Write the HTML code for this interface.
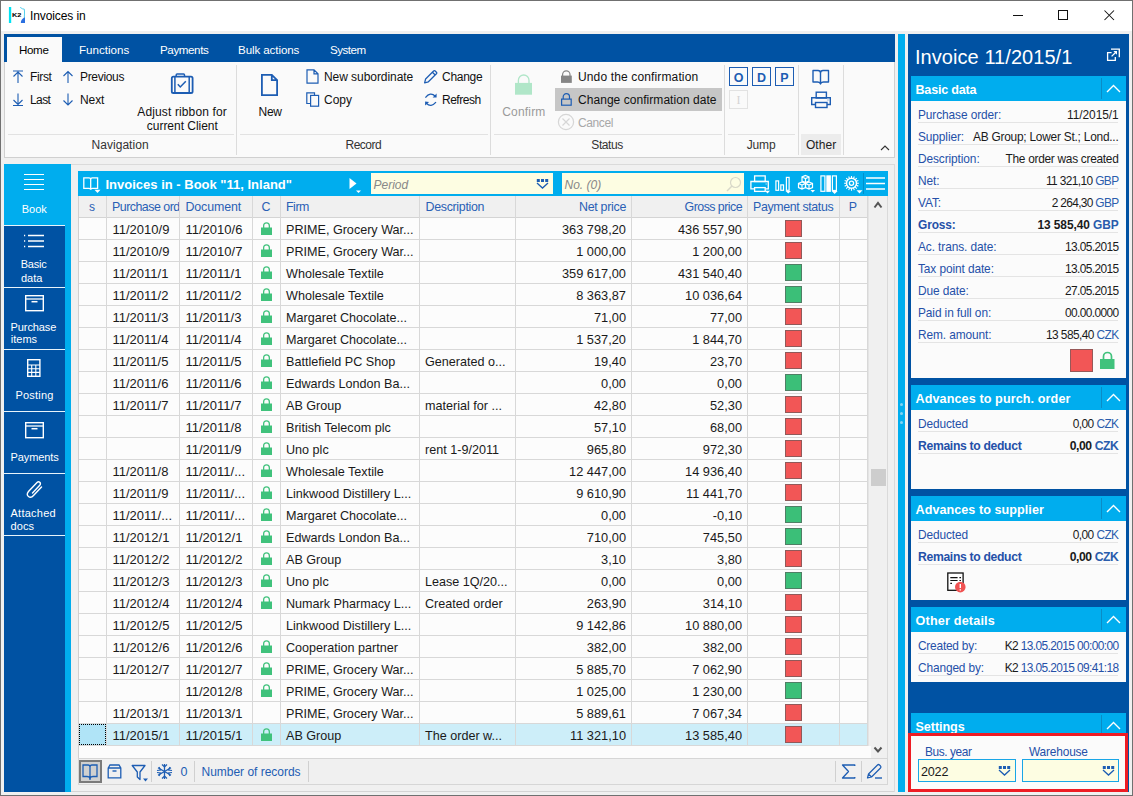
<!DOCTYPE html>
<html><head><meta charset="utf-8"><title>Invoices in</title>
<style>
html,body{margin:0;padding:0;}
body{width:1133px;height:796px;overflow:hidden;position:relative;background:#f0f0f0;font-family:"Liberation Sans",sans-serif;}
.a{position:absolute;}
.t{position:absolute;white-space:nowrap;}
</style></head><body>
<div class="a" style="left:0px;top:0px;width:1133px;height:796px;background:#f0f0f0;"></div>
<div class="a" style="left:1px;top:1px;width:1131px;height:30px;background:#ffffff;"></div>
<div class="a" style="left:0px;top:0px;width:1133px;height:1px;background:#707070;"></div>
<div class="a" style="left:0px;top:0px;width:1px;height:796px;background:#707070;"></div>
<div class="a" style="left:1132px;top:0px;width:1px;height:796px;background:#707070;"></div>
<div class="a" style="left:0px;top:795px;width:1133px;height:1px;background:#707070;"></div>
<svg class="a" style="left:5px;top:3px;" width="25" height="24" viewBox="0 0 25 24"><rect x="3.9" y="4" width="2.3" height="16" fill="#00e2f2"/><text x="7" y="17.2" font-family="Liberation Sans" font-weight="bold" font-size="7.4" letter-spacing="-0.1" fill="#000" transform="scale(1,0.8)">K2</text><path d="M15.2 4.4 L17.5 5.8 L19.3 6.2 L19.5 9 L19.3 15.5" stroke="#3cc8ec" stroke-width="0.9" fill="none"/><path d="M15.8 20 Q15.8 16 19.5 14.5 L20 14.5 L20 20 Z" fill="#2a6fe0"/></svg>
<div class="t" style="top:10px;font-size:12px;line-height:12px;left:30px;color:#000;letter-spacing:-0.100px;">Invoices in</div>
<div class="a" style="left:1013px;top:15px;width:10px;height:1px;background:#111;"></div>
<div class="a" style="left:1058px;top:10px;width:10px;height:10px;border:1px solid #111;box-sizing:border-box;"></div>
<svg class="a" style="left:1104px;top:10px;" width="11" height="11" viewBox="0 0 11 11"><path d="M0.5 0.5 L10 10 M10 0.5 L0.5 10" stroke="#111" stroke-width="1.05"/></svg>
<div class="a" style="left:4px;top:34px;width:891px;height:28px;background:#0052a3;"></div>
<div class="a" style="left:7px;top:37px;width:55px;height:25px;background:#fafafa;"></div>
<div class="t" style="top:44px;font-size:11.6px;line-height:11.6px;left:19px;color:#000;letter-spacing:-0.357px;">Home</div>
<div class="t" style="top:44px;font-size:11.6px;line-height:11.6px;left:79px;color:#fff;letter-spacing:0px;">Functions</div>
<div class="t" style="top:44px;font-size:11.6px;line-height:11.6px;left:160px;color:#fff;letter-spacing:-0.4px;">Payments</div>
<div class="t" style="top:44px;font-size:11.6px;line-height:11.6px;left:238px;color:#fff;letter-spacing:-0.1px;">Bulk actions</div>
<div class="t" style="top:44px;font-size:11.6px;line-height:11.6px;left:330px;color:#fff;letter-spacing:-0.5px;">System</div>
<div class="a" style="left:4px;top:62px;width:891px;height:96px;background:#fafafa;border:1px solid #d0d0d0;border-top:none;box-sizing:border-box;"></div>
<div class="a" style="left:236px;top:65px;width:1px;height:90px;background:#dcdcdc;"></div>
<div class="a" style="left:490px;top:65px;width:1px;height:90px;background:#dcdcdc;"></div>
<div class="a" style="left:724px;top:65px;width:1px;height:90px;background:#dcdcdc;"></div>
<div class="a" style="left:798px;top:65px;width:1px;height:90px;background:#dcdcdc;"></div>
<div class="a" style="left:843px;top:65px;width:1px;height:90px;background:#dcdcdc;"></div>
<div class="a" style="left:8px;top:134px;width:226px;height:1px;background:#e2e2e2;"></div>
<div class="a" style="left:240px;top:134px;width:248px;height:1px;background:#e2e2e2;"></div>
<div class="a" style="left:494px;top:134px;width:228px;height:1px;background:#e2e2e2;"></div>
<div class="a" style="left:728px;top:134px;width:67px;height:1px;background:#e2e2e2;"></div>
<div class="a" style="left:801px;top:134px;width:40px;height:1px;background:#e2e2e2;"></div>
<div class="a" style="left:801px;top:134px;width:40px;height:21px;background:#ececec;"></div>
<div class="t" style="top:139px;font-size:12px;line-height:12px;left:20.10px;width:200px;text-align:center;color:#333;letter-spacing:0.030px;">Navigation</div>
<div class="t" style="top:139px;font-size:12px;line-height:12px;left:263.30px;width:200px;text-align:center;color:#333;letter-spacing:-0.514px;">Record</div>
<div class="t" style="top:139px;font-size:12px;line-height:12px;left:507.10px;width:200px;text-align:center;color:#333;letter-spacing:-0.403px;">Status</div>
<div class="t" style="top:139px;font-size:12px;line-height:12px;left:661.10px;width:200px;text-align:center;color:#333;letter-spacing:-0.136px;">Jump</div>
<div class="t" style="top:139px;font-size:12px;line-height:12px;left:721.10px;width:200px;text-align:center;color:#222;letter-spacing:0.038px;">Other</div>
<svg class="a" style="left:880px;top:144px;" width="10" height="8" viewBox="0 0 10 8"><path d="M1 6 L5 2 L9 6" stroke="#333" stroke-width="1.1" fill="none"/></svg>
<svg class="a" style="left:12px;top:70px;" width="12" height="14" viewBox="0 0 12 14"><path d="M1 1 H11 M6 2 V13 M1.5 6.5 L6 2 L10.5 6.5" stroke="#1d5db3" stroke-width="1.1" fill="none"/></svg>
<div class="t" style="top:71px;font-size:12px;line-height:12px;left:30px;color:#111;letter-spacing:-0.345px;">First</div>
<svg class="a" style="left:12px;top:93px;" width="12" height="14" viewBox="0 0 12 14"><path d="M1 12.5 H11 M6 0.5 V11.5 M1.5 7 L6 11.5 L10.5 7" stroke="#1d5db3" stroke-width="1.1" fill="none"/></svg>
<div class="t" style="top:94px;font-size:12px;line-height:12px;left:30px;color:#111;letter-spacing:-0.595px;">Last</div>
<svg class="a" style="left:62px;top:70px;" width="12" height="14" viewBox="0 0 12 14"><path d="M6 1.5 V13 M1.5 6 L6 1.5 L10.5 6" stroke="#1d5db3" stroke-width="1.1" fill="none"/></svg>
<div class="t" style="top:71px;font-size:12px;line-height:12px;left:80px;color:#111;letter-spacing:-0.323px;">Previous</div>
<svg class="a" style="left:62px;top:93px;" width="12" height="14" viewBox="0 0 12 14"><path d="M6 0.5 V12 M1.5 7.5 L6 12 L10.5 7.5" stroke="#1d5db3" stroke-width="1.1" fill="none"/></svg>
<div class="t" style="top:94px;font-size:12px;line-height:12px;left:80px;color:#111;letter-spacing:-0.093px;">Next</div>
<svg class="a" style="left:170px;top:73px;" width="24" height="21" viewBox="0 0 24 21"><path d="M6.2 3.5 V1.9 Q6.2 1 7.1 1 H13.6 Q14.5 1 14.5 1.9 V3.5" stroke="#1d5db3" stroke-width="1.5" fill="none"/><rect x="1.8" y="3.6" width="20.8" height="16.4" rx="1.6" stroke="#1d5db3" stroke-width="1.8" fill="none"/><path d="M4.9 3.6 V20 M19.2 3.6 V20 M7.8 11.3 L10.3 14 L15.8 8.2" stroke="#1d5db3" stroke-width="1.5" fill="none"/></svg>
<div class="t" style="top:106px;font-size:12px;line-height:12px;left:82.10px;width:200px;text-align:center;color:#111;letter-spacing:0.131px;">Adjust ribbon for</div>
<div class="t" style="top:120px;font-size:12px;line-height:12px;left:82.30px;width:200px;text-align:center;color:#111;letter-spacing:-0.026px;">current Client</div>
<svg class="a" style="left:261px;top:74px;" width="17" height="22" viewBox="0 0 17 22"><path d="M0.9 0.9 H10.8 L16.1 6.2 V21.1 H0.9 Z M10.8 0.9 V6.2 H16.1" stroke="#1d5db3" stroke-width="1.8" fill="none" stroke-linejoin="miter"/></svg>
<div class="t" style="top:106px;font-size:12px;line-height:12px;left:170.15px;width:200px;text-align:center;color:#111;letter-spacing:-0.302px;">New</div>
<svg class="a" style="left:306px;top:69px;" width="13" height="15" viewBox="0 0 13 15"><path d="M1 0.8 H8 L12 4.8 V14.2 H1 Z M8 0.8 V4.8 H12" stroke="#1d5db3" stroke-width="1.2" fill="none"/></svg>
<div class="t" style="top:71px;font-size:12px;line-height:12px;left:324px;color:#111;letter-spacing:-0.057px;">New subordinate</div>
<svg class="a" style="left:306px;top:92px;" width="14" height="15" viewBox="0 0 14 15"><path d="M0.8 0.8 H8.5 V11.5 H0.8 Z" stroke="#1d5db3" stroke-width="1.2" fill="none"/><rect x="4.6" y="3.4" width="8" height="10.8" stroke="#1d5db3" stroke-width="1.2" fill="#fafafa"/></svg>
<div class="t" style="top:94px;font-size:12px;line-height:12px;left:324px;color:#111;letter-spacing:-0.003px;">Copy</div>
<svg class="a" style="left:423px;top:69px;" width="16" height="16" viewBox="0 0 16 16"><path d="M1.6 13.9 L2.6 10 L10.6 2 Q11.4 1.2 12.2 2 L13.4 3.2 Q14.2 4 13.4 4.8 L5.4 12.8 Z M9.4 3.2 L12.2 6" stroke="#1d5db3" stroke-width="1.25" fill="none" stroke-linejoin="round"/></svg>
<div class="t" style="top:71px;font-size:12px;line-height:12px;left:442px;color:#111;letter-spacing:-0.273px;">Change</div>
<svg class="a" style="left:424px;top:92px;" width="14" height="15" viewBox="0 0 14 15"><path d="M1.4 5.6 Q6.3 -0.6 11.3 4.2 M12 10.2 Q7 16 2.3 11.2" stroke="#1d5db3" stroke-width="1.3" fill="none"/><path d="M12.6 1.6 V5.6 L8.6 5.4 Z M1.1 9.6 V13.6 L5.1 10 Z" fill="#1d5db3"/></svg>
<div class="t" style="top:94px;font-size:12px;line-height:12px;left:442px;color:#111;letter-spacing:-0.488px;">Refresh</div>
<svg class="a" style="left:514px;top:74px;" width="19" height="21" viewBox="0 0 19 21"><path d="M4.4 9.2 V6.3 A5.3 5.3 0 0 1 15 6.3 V9.2" stroke="#b0e6c8" stroke-width="1.3" fill="none"/><rect x="1" y="8.9" width="17" height="11.8" fill="#b0e6c8"/></svg>
<div class="t" style="top:106px;font-size:12px;line-height:12px;left:423.90px;width:200px;text-align:center;color:#9a9a9a;letter-spacing:0.171px;">Confirm</div>
<svg class="a" style="left:560px;top:69px;" width="14" height="15" viewBox="0 0 14 15"><path d="M2.6 7 V5.5 A3.7 3.7 0 0 1 10 5.5 V7" stroke="#858585" stroke-width="1.2" fill="none"/><rect x="1" y="6.6" width="10.8" height="7.3" fill="#858585"/></svg>
<div class="t" style="top:71px;font-size:12px;line-height:12px;left:578px;color:#111;letter-spacing:0.138px;">Undo the confirmation</div>
<div class="a" style="left:555px;top:88px;width:167px;height:23px;background:#c6c6c6;"></div>
<svg class="a" style="left:560px;top:92px;" width="14" height="15" viewBox="0 0 14 15"><path d="M3.2 7.1 V4.85 A3.15 3.15 0 0 1 9.5 4.85 V7.1" stroke="#1d5db3" stroke-width="1.2" fill="none"/><rect x="1.6" y="7.1" width="9.6" height="6.1" stroke="#1d5db3" stroke-width="1.2" fill="none"/></svg>
<div class="t" style="top:94px;font-size:12px;line-height:12px;left:578px;color:#111;letter-spacing:0.049px;">Change confirmation date</div>
<svg class="a" style="left:557px;top:113px;" width="18" height="18" viewBox="0 0 18 18"><circle cx="9" cy="9" r="7.6" stroke="#d6d6d6" stroke-width="1.2" fill="none"/><path d="M5.5 5.5 L12.5 12.5 M12.5 5.5 L5.5 12.5" stroke="#d6d6d6" stroke-width="1.2"/></svg>
<div class="t" style="top:117px;font-size:12px;line-height:12px;left:578px;color:#a8a8a8;letter-spacing:-0.392px;">Cancel</div>
<div class="a" style="left:729px;top:67px;width:19px;height:19px;border:1.5px solid #1d5db3;box-sizing:border-box;"></div>
<div class="t" style="top:72px;font-size:12.5px;line-height:12.5px;left:729.00px;width:19px;text-align:center;color:#1d5db3;font-weight:bold;">O</div>
<div class="a" style="left:752px;top:67px;width:19px;height:19px;border:1.5px solid #1d5db3;box-sizing:border-box;"></div>
<div class="t" style="top:72px;font-size:12.5px;line-height:12.5px;left:752.00px;width:19px;text-align:center;color:#1d5db3;font-weight:bold;">D</div>
<div class="a" style="left:775px;top:67px;width:19px;height:19px;border:1.5px solid #1d5db3;box-sizing:border-box;"></div>
<div class="t" style="top:72px;font-size:12.5px;line-height:12.5px;left:775.00px;width:19px;text-align:center;color:#1d5db3;font-weight:bold;">P</div>
<div class="a" style="left:729px;top:90px;width:19px;height:19px;border:1px solid #e2e2e2;box-sizing:border-box;"></div>
<div class="t" style="top:94px;font-size:12px;line-height:12px;left:729.00px;width:19px;text-align:center;color:#d4d4d4;font-family:Liberation Serif,serif;">I</div>
<svg class="a" style="left:812px;top:69px;" width="18" height="16" viewBox="0 0 18 16"><path d="M1 1.5 H6 Q8.5 1.5 8.5 4 V14.5 Q7.5 13 5.5 13 H1 Z M16.5 1.5 H11 Q8.5 1.5 8.5 4 V14.5 Q9.5 13 11.5 13 H16.5 Z" stroke="#1d5db3" stroke-width="1.4" fill="none" stroke-linejoin="round"/><path d="M8.5 14 V15.5" stroke="#1d5db3" stroke-width="1.2"/></svg>
<svg class="a" style="left:810px;top:90px;" width="22" height="19" viewBox="0 0 22 19"><rect x="6.2" y="2.2" width="10.2" height="5.8" stroke="#1d5db3" stroke-width="1.4" fill="none"/><path d="M5 14.5 H1.7 V7.8 H20.3 V14.5 H17" stroke="#1d5db3" stroke-width="1.4" fill="none"/><rect x="5.5" y="12.5" width="11.5" height="5" stroke="#1d5db3" stroke-width="1.4" fill="#fafafa"/><path d="M17.5 10 H18.5" stroke="#1d5db3" stroke-width="0.8"/></svg>
<!--MAIN-->
<div class="a" style="left:4px;top:164px;width:67px;height:628px;background:#00adee;"></div>
<div class="a" style="left:4px;top:226px;width:61px;height:566px;background:#0052a3;"></div>
<div class="a" style="left:4px;top:164px;width:61px;height:61px;background:#00adee;"></div>
<div class="a" style="left:4px;top:225px;width:61px;height:1px;background:#e8f4fb;"></div>
<div class="a" style="left:4px;top:287px;width:61px;height:1px;background:#e8f4fb;"></div>
<div class="a" style="left:4px;top:349px;width:61px;height:1px;background:#e8f4fb;"></div>
<div class="a" style="left:4px;top:411px;width:61px;height:1px;background:#e8f4fb;"></div>
<div class="a" style="left:4px;top:473px;width:61px;height:1px;background:#e8f4fb;"></div>
<div class="a" style="left:4px;top:535px;width:61px;height:1px;background:#e8f4fb;"></div>
<svg class="a" style="left:24px;top:173px;" width="20" height="18" viewBox="0 0 20 18"><path d="M0 1.5 H20 M0 6.5 H20 M0 11.5 H20 M0 16.5 H20" stroke="#fff" stroke-width="1.2"/></svg>
<div class="t" style="top:204px;font-size:11px;line-height:11px;left:-65.70px;width:200px;text-align:center;color:#fff;">Book</div>
<svg class="a" style="left:23px;top:234px;" width="22" height="14" viewBox="0 0 22 14"><path d="M1 1.5 H2.2 M1 7 H2.2 M1 12.5 H2.2" stroke="#fff" stroke-width="1.3"/><path d="M5 1.5 H21 M5 7 H21 M5 12.5 H21" stroke="#fff" stroke-width="1.3"/></svg>
<div class="t" style="top:259px;font-size:11px;line-height:11px;left:20.7px;color:#fff;letter-spacing:-0.2px;">Basic</div>
<div class="t" style="top:273px;font-size:11px;line-height:11px;left:21px;color:#fff;">data</div>
<svg class="a" style="left:25px;top:295px;" width="19" height="17" viewBox="0 0 19 17"><rect x="0.7" y="0.7" width="17.6" height="15" stroke="#fff" stroke-width="1.4" fill="none"/><path d="M0.7 4 H18.3" stroke="#fff" stroke-width="1.3"/><path d="M6.5 6.7 H12.5" stroke="#fff" stroke-width="1.5"/></svg>
<div class="t" style="top:322px;font-size:11px;line-height:11px;left:10.6px;color:#fff;letter-spacing:-0.1px;">Purchase</div>
<div class="t" style="top:334px;font-size:11px;line-height:11px;left:10.8px;color:#fff;">items</div>
<svg class="a" style="left:27px;top:359px;" width="14" height="18" viewBox="0 0 14 18"><rect x="0.7" y="0.7" width="12.2" height="16.6" stroke="#fff" stroke-width="1.4" fill="none"/><path d="M0.7 6 H12.9 M0.7 9.7 H12.9 M0.7 13.4 H12.9 M4.7 6 V17 M8.8 6 V17" stroke="#fff" stroke-width="1.1"/></svg>
<div class="t" style="top:390px;font-size:11px;line-height:11px;left:15.5px;color:#fff;letter-spacing:0.2px;">Posting</div>
<svg class="a" style="left:25px;top:422px;" width="19" height="17" viewBox="0 0 19 17"><rect x="0.7" y="0.7" width="17.6" height="15" stroke="#fff" stroke-width="1.4" fill="none"/><path d="M0.7 4 H18.3" stroke="#fff" stroke-width="1.3"/><path d="M6.5 6.7 H12.5" stroke="#fff" stroke-width="1.5"/></svg>
<div class="t" style="top:452px;font-size:11px;line-height:11px;left:10.5px;color:#fff;letter-spacing:-0.1px;">Payments</div>
<svg class="a" style="left:25px;top:479px;" width="18" height="20" viewBox="0 0 18 20"><path d="M7.5 14 L14.5 6.5 Q16 5 15 3.5 Q13.5 2 12 3.5 L3.5 12.5 Q1 15.5 3.5 17.5 Q6 19.5 8.5 16.5 L16.5 8" stroke="#fff" stroke-width="1.4" fill="none" stroke-linecap="round"/></svg>
<div class="t" style="top:508px;font-size:11px;line-height:11px;left:10.5px;color:#fff;letter-spacing:0.25px;">Attached</div>
<div class="t" style="top:521px;font-size:11px;line-height:11px;left:10.5px;color:#fff;letter-spacing:0.1px;">docs</div>
<div class="a" style="left:71px;top:164px;width:824px;height:1px;background:#dadada;"></div>
<!--GRID-->
<div class="a" style="left:78px;top:171px;width:810px;height:25px;background:#00adee;"></div>
<svg class="a" style="left:83px;top:177px;" width="18" height="17" viewBox="0 0 18 17"><path d="M0.8 0.8 H6 Q7.7 0.8 7.7 2.5 V12.7 Q7.7 11.3 6 11.3 H0.8 Z M14.6 0.8 H9.4 Q7.7 0.8 7.7 2.5 V12.7 Q7.7 11.3 9.4 11.3 H14.6 Z" stroke="#fff" stroke-width="1.3" fill="none"/><path d="M11.5 12.8 H17.5 L14.5 16 Z" fill="#fff"/></svg>
<div class="t" style="top:178px;font-size:13px;line-height:13px;left:105.5px;color:#fff;font-weight:bold;">Invoices in - Book "11, Inland"</div>
<svg class="a" style="left:348px;top:177px;" width="14" height="17" viewBox="0 0 14 17"><path d="M1.5 1 L8.5 6.5 L1.5 12 Z" fill="#fff"/><path d="M8 13.5 H13 L10.5 16 Z" fill="#fff"/></svg>
<div class="a" style="left:371px;top:173px;width:182px;height:21px;background:#fdfde2;"></div>
<div class="t" style="top:179px;font-size:12px;line-height:12px;left:373.5px;color:#888;font-style:italic;">Period</div>
<svg class="a" style="left:536px;top:178px;" width="13" height="11" viewBox="0 0 13 11"><rect x="0.8" y="1" width="3" height="3" fill="#1d5db3"/><rect x="5" y="1" width="3" height="3" fill="#1d5db3"/><rect x="9.2" y="1" width="3" height="3" fill="#1d5db3"/><path d="M2.3 2.5 h0.01 M6.5 2.5 h0.01 M10.7 2.5 h0.01" stroke="#cfe0f0" stroke-width="1"/><path d="M1 5 L6.5 10 L12 5" stroke="#1d5db3" stroke-width="1.3" fill="none"/></svg>
<div class="a" style="left:562px;top:173px;width:182px;height:21px;background:#fdfde2;"></div>
<div class="t" style="top:179px;font-size:12px;line-height:12px;left:564.5px;color:#888;font-style:italic;">No. (0)</div>
<svg class="a" style="left:726px;top:176px;" width="16" height="16" viewBox="0 0 16 16"><circle cx="9.5" cy="6.5" r="5" stroke="#d8d8c8" stroke-width="1.2" fill="none"/><path d="M6 10 L1 15" stroke="#d8d8c8" stroke-width="1.4"/></svg>
<svg class="a" style="left:749px;top:174px;" width="22" height="20" viewBox="0 0 22 20"><rect x="5.6" y="1.9" width="10.6" height="5.6" stroke="#fff" stroke-width="1.3" fill="none"/><path d="M5 14.8 H1.9 V7.5 H19.3 V14.8 H16.5" stroke="#fff" stroke-width="1.3" fill="none"/><rect x="5.6" y="13.6" width="10.6" height="3.8" stroke="#fff" stroke-width="1.3" fill="#00adee"/><path d="M16.5 10 H17.8" stroke="#fff" stroke-width="0.8"/><path d="M16 16.8 H21 L18.5 19.5 Z" fill="#fff"/></svg>
<svg class="a" style="left:774px;top:174px;" width="20" height="20" viewBox="0 0 20 20"><rect x="1.9" y="6.9" width="2.7" height="9.4" stroke="#fff" stroke-width="1.2" fill="none"/><rect x="6.8" y="10.9" width="2.7" height="5.4" stroke="#fff" stroke-width="1.2" fill="none"/><rect x="12.4" y="3.4" width="2.7" height="12.9" stroke="#fff" stroke-width="1.2" fill="none"/><path d="M11.5 17 H17 L14.25 19.6 Z" fill="#fff"/></svg>
<svg class="a" style="left:797px;top:174px;" width="20" height="20" viewBox="0 0 20 20"><path d="M8.5 1.5 L12 3 V7 L8.5 8.5 L5 7 V3 Z M5 3 L8.5 4.5 L12 3 M8.5 4.5 V8.5" stroke="#fff" stroke-width="1.2" fill="none"/><path d="M5 8 L8.5 9.5 V13.5 L5 15 L1.5 13.5 V9.5 Z M1.5 9.5 L5 11 L8.5 9.5 M5 11 V15" stroke="#fff" stroke-width="1.2" fill="none"/><path d="M12 8 L15.5 9.5 V13.5 L12 15 L8.5 13.5 V9.5 Z M8.5 9.5 L12 11 L15.5 9.5 M12 11 V15" stroke="#fff" stroke-width="1.2" fill="none"/><path d="M13.5 16 H18 L15.75 18.5 Z" fill="#fff"/></svg>
<svg class="a" style="left:820px;top:175px;" width="20" height="20" viewBox="0 0 20 20"><rect x="0.9" y="0.9" width="4" height="15.4" stroke="#fff" stroke-width="1.2" fill="none"/><rect x="6.3" y="0.3" width="4.6" height="16.6" fill="#fff"/><rect x="12.4" y="0.9" width="4" height="14.6" stroke="#fff" stroke-width="1.2" fill="none"/><path d="M11.6 16 H17.6 L14.6 19 Z" fill="#fff"/></svg>
<svg class="a" style="left:843px;top:174px;" width="21" height="21" viewBox="0 0 21 21"><circle cx="8.5" cy="9.3" r="5" stroke="#fff" stroke-width="1.5" fill="none"/><circle cx="8.5" cy="9.3" r="2.1" stroke="#fff" stroke-width="1.3" fill="none"/><path d="M13.70 9.30 L15.90 9.30 M13.30 11.29 L15.34 12.13 M12.18 12.98 L13.73 14.53 M10.49 14.10 L11.33 16.14 M8.50 14.50 L8.50 16.70 M6.51 14.10 L5.67 16.14 M4.82 12.98 L3.27 14.53 M3.70 11.29 L1.66 12.13 M3.30 9.30 L1.10 9.30 M3.70 7.31 L1.66 6.47 M4.82 5.62 L3.27 4.07 M6.51 4.50 L5.67 2.46 M8.50 4.10 L8.50 1.90 M10.49 4.50 L11.33 2.46 M12.18 5.62 L13.73 4.07 M13.30 7.31 L15.34 6.47" stroke="#fff" stroke-width="1.1"/><path d="M13.5 16.3 H19.5 L16.5 19.5 Z" fill="#fff"/></svg>
<div class="a" style="left:863px;top:173px;width:1px;height:21px;background:#0090cc;"></div>
<svg class="a" style="left:866px;top:176px;" width="20" height="15" viewBox="0 0 20 15"><path d="M0 2 H19 M0 7.5 H19 M0 13 H19" stroke="#fff" stroke-width="1.4"/></svg>
<div class="a" style="left:78px;top:196px;width:810px;height:562px;background:#fcfcfc;border-left:1px solid #d0d0d0;box-sizing:border-box;"></div>
<div class="a" style="left:78px;top:196px;width:790px;height:21px;background:#f0f0f0;"></div>
<div class="a" style="left:78px;top:217px;width:790px;height:1px;background:#d4d4d4;"></div>
<div class="t" style="top:201px;font-size:12px;line-height:12px;left:78.00px;width:28px;text-align:center;color:#2a5fb5;white-space:nowrap;">s</div>
<div class="t" style="left:112px;top:201px;width:67px;overflow:hidden;font-size:12.4px;line-height:12.4px;letter-spacing:-0.5px;color:#2a5fb5;white-space:nowrap;">Purchase order</div>
<div class="t" style="top:201px;font-size:12.4px;line-height:12.4px;left:185.5px;color:#2a5fb5;white-space:nowrap;letter-spacing:-0.121px;">Document</div>
<div class="t" style="top:201px;font-size:12.4px;line-height:12.4px;left:252.00px;width:28px;text-align:center;color:#2a5fb5;white-space:nowrap;">C</div>
<div class="t" style="top:201px;font-size:12.4px;line-height:12.4px;left:286px;color:#2a5fb5;white-space:nowrap;letter-spacing:-0.467px;">Firm</div>
<div class="t" style="top:201px;font-size:12.4px;line-height:12.4px;left:425.5px;color:#2a5fb5;white-space:nowrap;letter-spacing:-0.298px;">Description</div>
<div class="t" style="top:201px;font-size:12.4px;line-height:12.4px;right:507px;text-align:right;color:#2a5fb5;white-space:nowrap;letter-spacing:-0.287px;">Net price</div>
<div class="t" style="top:201px;font-size:12.4px;line-height:12.4px;right:391px;text-align:right;color:#2a5fb5;white-space:nowrap;letter-spacing:-0.540px;">Gross price</div>
<div class="t" style="top:201px;font-size:12.4px;line-height:12.4px;left:753px;color:#2a5fb5;white-space:nowrap;letter-spacing:-0.364px;">Payment status</div>
<div class="t" style="top:201px;font-size:12.4px;line-height:12.4px;left:839.00px;width:28px;text-align:center;color:#2a5fb5;white-space:nowrap;">P</div>
<div class="a" style="left:78px;top:239px;width:790px;height:1px;background:#d8d8d8;"></div>
<div class="t" style="top:223px;font-size:13px;line-height:13px;left:112.5px;color:#1a1a1a;white-space:nowrap;">11/2010/9</div>
<div class="t" style="top:223px;font-size:13px;line-height:13px;left:185.5px;color:#1a1a1a;white-space:nowrap;">11/2010/6</div>
<svg class="a" style="left:260px;top:221px;" width="13" height="15" viewBox="0 0 13 15"><path d="M3.65 7 V4.65 A2.85 2.85 0 0 1 9.35 4.65 V7" stroke="#40c27c" stroke-width="1.3" fill="none"/><rect x="1" y="6.5" width="11" height="7.5" fill="#40c27c"/></svg>
<div class="t" style="top:224px;font-size:12.6px;line-height:12.6px;left:286px;color:#1a1a1a;white-space:nowrap;">PRIME, Grocery War...</div>
<div class="t" style="top:224px;font-size:12.8px;line-height:12.8px;right:507px;text-align:right;color:#1a1a1a;white-space:nowrap;">363 798,20</div>
<div class="t" style="top:224px;font-size:12.8px;line-height:12.8px;right:391px;text-align:right;color:#1a1a1a;white-space:nowrap;">436 557,90</div>
<div class="a" style="left:785px;top:220px;width:17px;height:17px;background:#f25656;border:1px solid rgba(90,90,90,0.65);box-sizing:border-box;"></div>
<div class="a" style="left:78px;top:261px;width:790px;height:1px;background:#d8d8d8;"></div>
<div class="t" style="top:245px;font-size:13px;line-height:13px;left:112.5px;color:#1a1a1a;white-space:nowrap;">11/2010/9</div>
<div class="t" style="top:245px;font-size:13px;line-height:13px;left:185.5px;color:#1a1a1a;white-space:nowrap;">11/2010/7</div>
<svg class="a" style="left:260px;top:243px;" width="13" height="15" viewBox="0 0 13 15"><path d="M3.65 7 V4.65 A2.85 2.85 0 0 1 9.35 4.65 V7" stroke="#40c27c" stroke-width="1.3" fill="none"/><rect x="1" y="6.5" width="11" height="7.5" fill="#40c27c"/></svg>
<div class="t" style="top:246px;font-size:12.6px;line-height:12.6px;left:286px;color:#1a1a1a;white-space:nowrap;">PRIME, Grocery War...</div>
<div class="t" style="top:246px;font-size:12.8px;line-height:12.8px;right:507px;text-align:right;color:#1a1a1a;white-space:nowrap;">1 000,00</div>
<div class="t" style="top:246px;font-size:12.8px;line-height:12.8px;right:391px;text-align:right;color:#1a1a1a;white-space:nowrap;">1 200,00</div>
<div class="a" style="left:785px;top:242px;width:17px;height:17px;background:#f25656;border:1px solid rgba(90,90,90,0.65);box-sizing:border-box;"></div>
<div class="a" style="left:78px;top:283px;width:790px;height:1px;background:#d8d8d8;"></div>
<div class="t" style="top:267px;font-size:13px;line-height:13px;left:112.5px;color:#1a1a1a;white-space:nowrap;">11/2011/1</div>
<div class="t" style="top:267px;font-size:13px;line-height:13px;left:185.5px;color:#1a1a1a;white-space:nowrap;">11/2011/1</div>
<svg class="a" style="left:260px;top:265px;" width="13" height="15" viewBox="0 0 13 15"><path d="M3.65 7 V4.65 A2.85 2.85 0 0 1 9.35 4.65 V7" stroke="#40c27c" stroke-width="1.3" fill="none"/><rect x="1" y="6.5" width="11" height="7.5" fill="#40c27c"/></svg>
<div class="t" style="top:268px;font-size:12.6px;line-height:12.6px;left:286px;color:#1a1a1a;white-space:nowrap;">Wholesale Textile</div>
<div class="t" style="top:268px;font-size:12.8px;line-height:12.8px;right:507px;text-align:right;color:#1a1a1a;white-space:nowrap;">359 617,00</div>
<div class="t" style="top:268px;font-size:12.8px;line-height:12.8px;right:391px;text-align:right;color:#1a1a1a;white-space:nowrap;">431 540,40</div>
<div class="a" style="left:785px;top:264px;width:17px;height:17px;background:#3bbf78;border:1px solid rgba(90,90,90,0.65);box-sizing:border-box;"></div>
<div class="a" style="left:78px;top:305px;width:790px;height:1px;background:#d8d8d8;"></div>
<div class="t" style="top:289px;font-size:13px;line-height:13px;left:112.5px;color:#1a1a1a;white-space:nowrap;">11/2011/2</div>
<div class="t" style="top:289px;font-size:13px;line-height:13px;left:185.5px;color:#1a1a1a;white-space:nowrap;">11/2011/2</div>
<svg class="a" style="left:260px;top:287px;" width="13" height="15" viewBox="0 0 13 15"><path d="M3.65 7 V4.65 A2.85 2.85 0 0 1 9.35 4.65 V7" stroke="#40c27c" stroke-width="1.3" fill="none"/><rect x="1" y="6.5" width="11" height="7.5" fill="#40c27c"/></svg>
<div class="t" style="top:290px;font-size:12.6px;line-height:12.6px;left:286px;color:#1a1a1a;white-space:nowrap;">Wholesale Textile</div>
<div class="t" style="top:290px;font-size:12.8px;line-height:12.8px;right:507px;text-align:right;color:#1a1a1a;white-space:nowrap;">8 363,87</div>
<div class="t" style="top:290px;font-size:12.8px;line-height:12.8px;right:391px;text-align:right;color:#1a1a1a;white-space:nowrap;">10 036,64</div>
<div class="a" style="left:785px;top:286px;width:17px;height:17px;background:#3bbf78;border:1px solid rgba(90,90,90,0.65);box-sizing:border-box;"></div>
<div class="a" style="left:78px;top:327px;width:790px;height:1px;background:#d8d8d8;"></div>
<div class="t" style="top:311px;font-size:13px;line-height:13px;left:112.5px;color:#1a1a1a;white-space:nowrap;">11/2011/3</div>
<div class="t" style="top:311px;font-size:13px;line-height:13px;left:185.5px;color:#1a1a1a;white-space:nowrap;">11/2011/3</div>
<svg class="a" style="left:260px;top:309px;" width="13" height="15" viewBox="0 0 13 15"><path d="M3.65 7 V4.65 A2.85 2.85 0 0 1 9.35 4.65 V7" stroke="#40c27c" stroke-width="1.3" fill="none"/><rect x="1" y="6.5" width="11" height="7.5" fill="#40c27c"/></svg>
<div class="t" style="top:312px;font-size:12.6px;line-height:12.6px;left:286px;color:#1a1a1a;white-space:nowrap;">Margaret Chocolate...</div>
<div class="t" style="top:312px;font-size:12.8px;line-height:12.8px;right:507px;text-align:right;color:#1a1a1a;white-space:nowrap;">71,00</div>
<div class="t" style="top:312px;font-size:12.8px;line-height:12.8px;right:391px;text-align:right;color:#1a1a1a;white-space:nowrap;">77,00</div>
<div class="a" style="left:785px;top:308px;width:17px;height:17px;background:#f25656;border:1px solid rgba(90,90,90,0.65);box-sizing:border-box;"></div>
<div class="a" style="left:78px;top:349px;width:790px;height:1px;background:#d8d8d8;"></div>
<div class="t" style="top:333px;font-size:13px;line-height:13px;left:112.5px;color:#1a1a1a;white-space:nowrap;">11/2011/4</div>
<div class="t" style="top:333px;font-size:13px;line-height:13px;left:185.5px;color:#1a1a1a;white-space:nowrap;">11/2011/4</div>
<svg class="a" style="left:260px;top:331px;" width="13" height="15" viewBox="0 0 13 15"><path d="M3.65 7 V4.65 A2.85 2.85 0 0 1 9.35 4.65 V7" stroke="#40c27c" stroke-width="1.3" fill="none"/><rect x="1" y="6.5" width="11" height="7.5" fill="#40c27c"/></svg>
<div class="t" style="top:334px;font-size:12.6px;line-height:12.6px;left:286px;color:#1a1a1a;white-space:nowrap;">Margaret Chocolate...</div>
<div class="t" style="top:334px;font-size:12.8px;line-height:12.8px;right:507px;text-align:right;color:#1a1a1a;white-space:nowrap;">1 537,20</div>
<div class="t" style="top:334px;font-size:12.8px;line-height:12.8px;right:391px;text-align:right;color:#1a1a1a;white-space:nowrap;">1 844,70</div>
<div class="a" style="left:785px;top:330px;width:17px;height:17px;background:#f25656;border:1px solid rgba(90,90,90,0.65);box-sizing:border-box;"></div>
<div class="a" style="left:78px;top:371px;width:790px;height:1px;background:#d8d8d8;"></div>
<div class="t" style="top:355px;font-size:13px;line-height:13px;left:112.5px;color:#1a1a1a;white-space:nowrap;">11/2011/5</div>
<div class="t" style="top:355px;font-size:13px;line-height:13px;left:185.5px;color:#1a1a1a;white-space:nowrap;">11/2011/5</div>
<svg class="a" style="left:260px;top:353px;" width="13" height="15" viewBox="0 0 13 15"><path d="M3.65 7 V4.65 A2.85 2.85 0 0 1 9.35 4.65 V7" stroke="#40c27c" stroke-width="1.3" fill="none"/><rect x="1" y="6.5" width="11" height="7.5" fill="#40c27c"/></svg>
<div class="t" style="top:356px;font-size:12.6px;line-height:12.6px;left:286px;color:#1a1a1a;white-space:nowrap;">Battlefield PC Shop</div>
<div class="t" style="top:356px;font-size:12.6px;line-height:12.6px;left:425px;color:#1a1a1a;white-space:nowrap;">Generated o...</div>
<div class="t" style="top:356px;font-size:12.8px;line-height:12.8px;right:507px;text-align:right;color:#1a1a1a;white-space:nowrap;">19,40</div>
<div class="t" style="top:356px;font-size:12.8px;line-height:12.8px;right:391px;text-align:right;color:#1a1a1a;white-space:nowrap;">23,70</div>
<div class="a" style="left:785px;top:352px;width:17px;height:17px;background:#f25656;border:1px solid rgba(90,90,90,0.65);box-sizing:border-box;"></div>
<div class="a" style="left:78px;top:393px;width:790px;height:1px;background:#d8d8d8;"></div>
<div class="t" style="top:377px;font-size:13px;line-height:13px;left:112.5px;color:#1a1a1a;white-space:nowrap;">11/2011/6</div>
<div class="t" style="top:377px;font-size:13px;line-height:13px;left:185.5px;color:#1a1a1a;white-space:nowrap;">11/2011/6</div>
<svg class="a" style="left:260px;top:375px;" width="13" height="15" viewBox="0 0 13 15"><path d="M3.65 7 V4.65 A2.85 2.85 0 0 1 9.35 4.65 V7" stroke="#40c27c" stroke-width="1.3" fill="none"/><rect x="1" y="6.5" width="11" height="7.5" fill="#40c27c"/></svg>
<div class="t" style="top:378px;font-size:12.6px;line-height:12.6px;left:286px;color:#1a1a1a;white-space:nowrap;">Edwards London Ba...</div>
<div class="t" style="top:378px;font-size:12.8px;line-height:12.8px;right:507px;text-align:right;color:#1a1a1a;white-space:nowrap;">0,00</div>
<div class="t" style="top:378px;font-size:12.8px;line-height:12.8px;right:391px;text-align:right;color:#1a1a1a;white-space:nowrap;">0,00</div>
<div class="a" style="left:785px;top:374px;width:17px;height:17px;background:#3bbf78;border:1px solid rgba(90,90,90,0.65);box-sizing:border-box;"></div>
<div class="a" style="left:78px;top:415px;width:790px;height:1px;background:#d8d8d8;"></div>
<div class="t" style="top:399px;font-size:13px;line-height:13px;left:112.5px;color:#1a1a1a;white-space:nowrap;">11/2011/7</div>
<div class="t" style="top:399px;font-size:13px;line-height:13px;left:185.5px;color:#1a1a1a;white-space:nowrap;">11/2011/7</div>
<svg class="a" style="left:260px;top:397px;" width="13" height="15" viewBox="0 0 13 15"><path d="M3.65 7 V4.65 A2.85 2.85 0 0 1 9.35 4.65 V7" stroke="#40c27c" stroke-width="1.3" fill="none"/><rect x="1" y="6.5" width="11" height="7.5" fill="#40c27c"/></svg>
<div class="t" style="top:400px;font-size:12.6px;line-height:12.6px;left:286px;color:#1a1a1a;white-space:nowrap;">AB Group</div>
<div class="t" style="top:400px;font-size:12.6px;line-height:12.6px;left:425px;color:#1a1a1a;white-space:nowrap;">material for ...</div>
<div class="t" style="top:400px;font-size:12.8px;line-height:12.8px;right:507px;text-align:right;color:#1a1a1a;white-space:nowrap;">42,80</div>
<div class="t" style="top:400px;font-size:12.8px;line-height:12.8px;right:391px;text-align:right;color:#1a1a1a;white-space:nowrap;">52,30</div>
<div class="a" style="left:785px;top:396px;width:17px;height:17px;background:#f25656;border:1px solid rgba(90,90,90,0.65);box-sizing:border-box;"></div>
<div class="a" style="left:78px;top:437px;width:790px;height:1px;background:#d8d8d8;"></div>
<div class="t" style="top:421px;font-size:13px;line-height:13px;left:185.5px;color:#1a1a1a;white-space:nowrap;">11/2011/8</div>
<svg class="a" style="left:260px;top:419px;" width="13" height="15" viewBox="0 0 13 15"><path d="M3.65 7 V4.65 A2.85 2.85 0 0 1 9.35 4.65 V7" stroke="#40c27c" stroke-width="1.3" fill="none"/><rect x="1" y="6.5" width="11" height="7.5" fill="#40c27c"/></svg>
<div class="t" style="top:422px;font-size:12.6px;line-height:12.6px;left:286px;color:#1a1a1a;white-space:nowrap;">British Telecom plc</div>
<div class="t" style="top:422px;font-size:12.8px;line-height:12.8px;right:507px;text-align:right;color:#1a1a1a;white-space:nowrap;">57,10</div>
<div class="t" style="top:422px;font-size:12.8px;line-height:12.8px;right:391px;text-align:right;color:#1a1a1a;white-space:nowrap;">68,00</div>
<div class="a" style="left:785px;top:418px;width:17px;height:17px;background:#f25656;border:1px solid rgba(90,90,90,0.65);box-sizing:border-box;"></div>
<div class="a" style="left:78px;top:459px;width:790px;height:1px;background:#d8d8d8;"></div>
<div class="t" style="top:443px;font-size:13px;line-height:13px;left:185.5px;color:#1a1a1a;white-space:nowrap;">11/2011/9</div>
<svg class="a" style="left:260px;top:441px;" width="13" height="15" viewBox="0 0 13 15"><path d="M3.65 7 V4.65 A2.85 2.85 0 0 1 9.35 4.65 V7" stroke="#40c27c" stroke-width="1.3" fill="none"/><rect x="1" y="6.5" width="11" height="7.5" fill="#40c27c"/></svg>
<div class="t" style="top:444px;font-size:12.6px;line-height:12.6px;left:286px;color:#1a1a1a;white-space:nowrap;">Uno plc</div>
<div class="t" style="top:444px;font-size:12.6px;line-height:12.6px;left:425px;color:#1a1a1a;white-space:nowrap;">rent 1-9/2011</div>
<div class="t" style="top:444px;font-size:12.8px;line-height:12.8px;right:507px;text-align:right;color:#1a1a1a;white-space:nowrap;">965,80</div>
<div class="t" style="top:444px;font-size:12.8px;line-height:12.8px;right:391px;text-align:right;color:#1a1a1a;white-space:nowrap;">972,30</div>
<div class="a" style="left:785px;top:440px;width:17px;height:17px;background:#f25656;border:1px solid rgba(90,90,90,0.65);box-sizing:border-box;"></div>
<div class="a" style="left:78px;top:481px;width:790px;height:1px;background:#d8d8d8;"></div>
<div class="t" style="top:465px;font-size:13px;line-height:13px;left:112.5px;color:#1a1a1a;white-space:nowrap;">11/2011/8</div>
<div class="t" style="top:465px;font-size:13px;line-height:13px;left:185.5px;color:#1a1a1a;white-space:nowrap;">11/2011/...</div>
<svg class="a" style="left:260px;top:463px;" width="13" height="15" viewBox="0 0 13 15"><path d="M3.65 7 V4.65 A2.85 2.85 0 0 1 9.35 4.65 V7" stroke="#40c27c" stroke-width="1.3" fill="none"/><rect x="1" y="6.5" width="11" height="7.5" fill="#40c27c"/></svg>
<div class="t" style="top:466px;font-size:12.6px;line-height:12.6px;left:286px;color:#1a1a1a;white-space:nowrap;">Wholesale Textile</div>
<div class="t" style="top:466px;font-size:12.8px;line-height:12.8px;right:507px;text-align:right;color:#1a1a1a;white-space:nowrap;">12 447,00</div>
<div class="t" style="top:466px;font-size:12.8px;line-height:12.8px;right:391px;text-align:right;color:#1a1a1a;white-space:nowrap;">14 936,40</div>
<div class="a" style="left:785px;top:462px;width:17px;height:17px;background:#f25656;border:1px solid rgba(90,90,90,0.65);box-sizing:border-box;"></div>
<div class="a" style="left:78px;top:503px;width:790px;height:1px;background:#d8d8d8;"></div>
<div class="t" style="top:487px;font-size:13px;line-height:13px;left:112.5px;color:#1a1a1a;white-space:nowrap;">11/2011/9</div>
<div class="t" style="top:487px;font-size:13px;line-height:13px;left:185.5px;color:#1a1a1a;white-space:nowrap;">11/2011/...</div>
<svg class="a" style="left:260px;top:485px;" width="13" height="15" viewBox="0 0 13 15"><path d="M3.65 7 V4.65 A2.85 2.85 0 0 1 9.35 4.65 V7" stroke="#40c27c" stroke-width="1.3" fill="none"/><rect x="1" y="6.5" width="11" height="7.5" fill="#40c27c"/></svg>
<div class="t" style="top:488px;font-size:12.6px;line-height:12.6px;left:286px;color:#1a1a1a;white-space:nowrap;">Linkwood Distillery L...</div>
<div class="t" style="top:488px;font-size:12.8px;line-height:12.8px;right:507px;text-align:right;color:#1a1a1a;white-space:nowrap;">9 610,90</div>
<div class="t" style="top:488px;font-size:12.8px;line-height:12.8px;right:391px;text-align:right;color:#1a1a1a;white-space:nowrap;">11 441,70</div>
<div class="a" style="left:785px;top:484px;width:17px;height:17px;background:#f25656;border:1px solid rgba(90,90,90,0.65);box-sizing:border-box;"></div>
<div class="a" style="left:78px;top:525px;width:790px;height:1px;background:#d8d8d8;"></div>
<div class="t" style="top:509px;font-size:13px;line-height:13px;left:112.5px;color:#1a1a1a;white-space:nowrap;">11/2011/...</div>
<div class="t" style="top:509px;font-size:13px;line-height:13px;left:185.5px;color:#1a1a1a;white-space:nowrap;">11/2011/...</div>
<svg class="a" style="left:260px;top:507px;" width="13" height="15" viewBox="0 0 13 15"><path d="M3.65 7 V4.65 A2.85 2.85 0 0 1 9.35 4.65 V7" stroke="#40c27c" stroke-width="1.3" fill="none"/><rect x="1" y="6.5" width="11" height="7.5" fill="#40c27c"/></svg>
<div class="t" style="top:510px;font-size:12.6px;line-height:12.6px;left:286px;color:#1a1a1a;white-space:nowrap;">Margaret Chocolate...</div>
<div class="t" style="top:510px;font-size:12.8px;line-height:12.8px;right:507px;text-align:right;color:#1a1a1a;white-space:nowrap;">0,00</div>
<div class="t" style="top:510px;font-size:12.8px;line-height:12.8px;right:391px;text-align:right;color:#1a1a1a;white-space:nowrap;">-0,10</div>
<div class="a" style="left:785px;top:506px;width:17px;height:17px;background:#3bbf78;border:1px solid rgba(90,90,90,0.65);box-sizing:border-box;"></div>
<div class="a" style="left:78px;top:547px;width:790px;height:1px;background:#d8d8d8;"></div>
<div class="t" style="top:531px;font-size:13px;line-height:13px;left:112.5px;color:#1a1a1a;white-space:nowrap;">11/2012/1</div>
<div class="t" style="top:531px;font-size:13px;line-height:13px;left:185.5px;color:#1a1a1a;white-space:nowrap;">11/2012/1</div>
<svg class="a" style="left:260px;top:529px;" width="13" height="15" viewBox="0 0 13 15"><path d="M3.65 7 V4.65 A2.85 2.85 0 0 1 9.35 4.65 V7" stroke="#40c27c" stroke-width="1.3" fill="none"/><rect x="1" y="6.5" width="11" height="7.5" fill="#40c27c"/></svg>
<div class="t" style="top:532px;font-size:12.6px;line-height:12.6px;left:286px;color:#1a1a1a;white-space:nowrap;">Edwards London Ba...</div>
<div class="t" style="top:532px;font-size:12.8px;line-height:12.8px;right:507px;text-align:right;color:#1a1a1a;white-space:nowrap;">710,00</div>
<div class="t" style="top:532px;font-size:12.8px;line-height:12.8px;right:391px;text-align:right;color:#1a1a1a;white-space:nowrap;">745,50</div>
<div class="a" style="left:785px;top:528px;width:17px;height:17px;background:#3bbf78;border:1px solid rgba(90,90,90,0.65);box-sizing:border-box;"></div>
<div class="a" style="left:78px;top:569px;width:790px;height:1px;background:#d8d8d8;"></div>
<div class="t" style="top:553px;font-size:13px;line-height:13px;left:112.5px;color:#1a1a1a;white-space:nowrap;">11/2012/2</div>
<div class="t" style="top:553px;font-size:13px;line-height:13px;left:185.5px;color:#1a1a1a;white-space:nowrap;">11/2012/2</div>
<svg class="a" style="left:260px;top:551px;" width="13" height="15" viewBox="0 0 13 15"><path d="M3.65 7 V4.65 A2.85 2.85 0 0 1 9.35 4.65 V7" stroke="#40c27c" stroke-width="1.3" fill="none"/><rect x="1" y="6.5" width="11" height="7.5" fill="#40c27c"/></svg>
<div class="t" style="top:554px;font-size:12.6px;line-height:12.6px;left:286px;color:#1a1a1a;white-space:nowrap;">AB Group</div>
<div class="t" style="top:554px;font-size:12.8px;line-height:12.8px;right:507px;text-align:right;color:#1a1a1a;white-space:nowrap;">3,10</div>
<div class="t" style="top:554px;font-size:12.8px;line-height:12.8px;right:391px;text-align:right;color:#1a1a1a;white-space:nowrap;">3,80</div>
<div class="a" style="left:785px;top:550px;width:17px;height:17px;background:#f25656;border:1px solid rgba(90,90,90,0.65);box-sizing:border-box;"></div>
<div class="a" style="left:78px;top:591px;width:790px;height:1px;background:#d8d8d8;"></div>
<div class="t" style="top:575px;font-size:13px;line-height:13px;left:112.5px;color:#1a1a1a;white-space:nowrap;">11/2012/3</div>
<div class="t" style="top:575px;font-size:13px;line-height:13px;left:185.5px;color:#1a1a1a;white-space:nowrap;">11/2012/3</div>
<svg class="a" style="left:260px;top:573px;" width="13" height="15" viewBox="0 0 13 15"><path d="M3.65 7 V4.65 A2.85 2.85 0 0 1 9.35 4.65 V7" stroke="#40c27c" stroke-width="1.3" fill="none"/><rect x="1" y="6.5" width="11" height="7.5" fill="#40c27c"/></svg>
<div class="t" style="top:576px;font-size:12.6px;line-height:12.6px;left:286px;color:#1a1a1a;white-space:nowrap;">Uno plc</div>
<div class="t" style="top:576px;font-size:12.6px;line-height:12.6px;left:425px;color:#1a1a1a;white-space:nowrap;">Lease 1Q/20...</div>
<div class="t" style="top:576px;font-size:12.8px;line-height:12.8px;right:507px;text-align:right;color:#1a1a1a;white-space:nowrap;">0,00</div>
<div class="t" style="top:576px;font-size:12.8px;line-height:12.8px;right:391px;text-align:right;color:#1a1a1a;white-space:nowrap;">0,00</div>
<div class="a" style="left:785px;top:572px;width:17px;height:17px;background:#3bbf78;border:1px solid rgba(90,90,90,0.65);box-sizing:border-box;"></div>
<div class="a" style="left:78px;top:613px;width:790px;height:1px;background:#d8d8d8;"></div>
<div class="t" style="top:597px;font-size:13px;line-height:13px;left:112.5px;color:#1a1a1a;white-space:nowrap;">11/2012/4</div>
<div class="t" style="top:597px;font-size:13px;line-height:13px;left:185.5px;color:#1a1a1a;white-space:nowrap;">11/2012/4</div>
<svg class="a" style="left:260px;top:595px;" width="13" height="15" viewBox="0 0 13 15"><path d="M3.65 7 V4.65 A2.85 2.85 0 0 1 9.35 4.65 V7" stroke="#40c27c" stroke-width="1.3" fill="none"/><rect x="1" y="6.5" width="11" height="7.5" fill="#40c27c"/></svg>
<div class="t" style="top:598px;font-size:12.6px;line-height:12.6px;left:286px;color:#1a1a1a;white-space:nowrap;">Numark Pharmacy L...</div>
<div class="t" style="top:598px;font-size:12.6px;line-height:12.6px;left:425px;color:#1a1a1a;white-space:nowrap;">Created order</div>
<div class="t" style="top:598px;font-size:12.8px;line-height:12.8px;right:507px;text-align:right;color:#1a1a1a;white-space:nowrap;">263,90</div>
<div class="t" style="top:598px;font-size:12.8px;line-height:12.8px;right:391px;text-align:right;color:#1a1a1a;white-space:nowrap;">314,10</div>
<div class="a" style="left:785px;top:594px;width:17px;height:17px;background:#f25656;border:1px solid rgba(90,90,90,0.65);box-sizing:border-box;"></div>
<div class="a" style="left:78px;top:635px;width:790px;height:1px;background:#d8d8d8;"></div>
<div class="t" style="top:619px;font-size:13px;line-height:13px;left:112.5px;color:#1a1a1a;white-space:nowrap;">11/2012/5</div>
<div class="t" style="top:619px;font-size:13px;line-height:13px;left:185.5px;color:#1a1a1a;white-space:nowrap;">11/2012/5</div>
<div class="t" style="top:620px;font-size:12.6px;line-height:12.6px;left:286px;color:#1a1a1a;white-space:nowrap;">Linkwood Distillery L...</div>
<div class="t" style="top:620px;font-size:12.8px;line-height:12.8px;right:507px;text-align:right;color:#1a1a1a;white-space:nowrap;">9 142,86</div>
<div class="t" style="top:620px;font-size:12.8px;line-height:12.8px;right:391px;text-align:right;color:#1a1a1a;white-space:nowrap;">10 880,00</div>
<div class="a" style="left:785px;top:616px;width:17px;height:17px;background:#f25656;border:1px solid rgba(90,90,90,0.65);box-sizing:border-box;"></div>
<div class="a" style="left:78px;top:657px;width:790px;height:1px;background:#d8d8d8;"></div>
<div class="t" style="top:641px;font-size:13px;line-height:13px;left:112.5px;color:#1a1a1a;white-space:nowrap;">11/2012/6</div>
<div class="t" style="top:641px;font-size:13px;line-height:13px;left:185.5px;color:#1a1a1a;white-space:nowrap;">11/2012/6</div>
<svg class="a" style="left:260px;top:639px;" width="13" height="15" viewBox="0 0 13 15"><path d="M3.65 7 V4.65 A2.85 2.85 0 0 1 9.35 4.65 V7" stroke="#40c27c" stroke-width="1.3" fill="none"/><rect x="1" y="6.5" width="11" height="7.5" fill="#40c27c"/></svg>
<div class="t" style="top:642px;font-size:12.6px;line-height:12.6px;left:286px;color:#1a1a1a;white-space:nowrap;">Cooperation partner</div>
<div class="t" style="top:642px;font-size:12.8px;line-height:12.8px;right:507px;text-align:right;color:#1a1a1a;white-space:nowrap;">382,00</div>
<div class="t" style="top:642px;font-size:12.8px;line-height:12.8px;right:391px;text-align:right;color:#1a1a1a;white-space:nowrap;">382,00</div>
<div class="a" style="left:785px;top:638px;width:17px;height:17px;background:#f25656;border:1px solid rgba(90,90,90,0.65);box-sizing:border-box;"></div>
<div class="a" style="left:78px;top:679px;width:790px;height:1px;background:#d8d8d8;"></div>
<div class="t" style="top:663px;font-size:13px;line-height:13px;left:112.5px;color:#1a1a1a;white-space:nowrap;">11/2012/7</div>
<div class="t" style="top:663px;font-size:13px;line-height:13px;left:185.5px;color:#1a1a1a;white-space:nowrap;">11/2012/7</div>
<svg class="a" style="left:260px;top:661px;" width="13" height="15" viewBox="0 0 13 15"><path d="M3.65 7 V4.65 A2.85 2.85 0 0 1 9.35 4.65 V7" stroke="#40c27c" stroke-width="1.3" fill="none"/><rect x="1" y="6.5" width="11" height="7.5" fill="#40c27c"/></svg>
<div class="t" style="top:664px;font-size:12.6px;line-height:12.6px;left:286px;color:#1a1a1a;white-space:nowrap;">PRIME, Grocery War...</div>
<div class="t" style="top:664px;font-size:12.8px;line-height:12.8px;right:507px;text-align:right;color:#1a1a1a;white-space:nowrap;">5 885,70</div>
<div class="t" style="top:664px;font-size:12.8px;line-height:12.8px;right:391px;text-align:right;color:#1a1a1a;white-space:nowrap;">7 062,90</div>
<div class="a" style="left:785px;top:660px;width:17px;height:17px;background:#f25656;border:1px solid rgba(90,90,90,0.65);box-sizing:border-box;"></div>
<div class="a" style="left:78px;top:701px;width:790px;height:1px;background:#d8d8d8;"></div>
<div class="t" style="top:685px;font-size:13px;line-height:13px;left:185.5px;color:#1a1a1a;white-space:nowrap;">11/2012/8</div>
<svg class="a" style="left:260px;top:683px;" width="13" height="15" viewBox="0 0 13 15"><path d="M3.65 7 V4.65 A2.85 2.85 0 0 1 9.35 4.65 V7" stroke="#40c27c" stroke-width="1.3" fill="none"/><rect x="1" y="6.5" width="11" height="7.5" fill="#40c27c"/></svg>
<div class="t" style="top:686px;font-size:12.6px;line-height:12.6px;left:286px;color:#1a1a1a;white-space:nowrap;">PRIME, Grocery War...</div>
<div class="t" style="top:686px;font-size:12.8px;line-height:12.8px;right:507px;text-align:right;color:#1a1a1a;white-space:nowrap;">1 025,00</div>
<div class="t" style="top:686px;font-size:12.8px;line-height:12.8px;right:391px;text-align:right;color:#1a1a1a;white-space:nowrap;">1 230,00</div>
<div class="a" style="left:785px;top:682px;width:17px;height:17px;background:#3bbf78;border:1px solid rgba(90,90,90,0.65);box-sizing:border-box;"></div>
<div class="a" style="left:78px;top:723px;width:790px;height:1px;background:#d8d8d8;"></div>
<div class="t" style="top:707px;font-size:13px;line-height:13px;left:112.5px;color:#1a1a1a;white-space:nowrap;">11/2013/1</div>
<div class="t" style="top:707px;font-size:13px;line-height:13px;left:185.5px;color:#1a1a1a;white-space:nowrap;">11/2013/1</div>
<div class="t" style="top:708px;font-size:12.6px;line-height:12.6px;left:286px;color:#1a1a1a;white-space:nowrap;">PRIME, Grocery War...</div>
<div class="t" style="top:708px;font-size:12.8px;line-height:12.8px;right:507px;text-align:right;color:#1a1a1a;white-space:nowrap;">5 889,61</div>
<div class="t" style="top:708px;font-size:12.8px;line-height:12.8px;right:391px;text-align:right;color:#1a1a1a;white-space:nowrap;">7 067,34</div>
<div class="a" style="left:785px;top:704px;width:17px;height:17px;background:#f25656;border:1px solid rgba(90,90,90,0.65);box-sizing:border-box;"></div>
<div class="a" style="left:79px;top:724px;width:788px;height:21px;background:#cdeef9;"></div>
<div class="a" style="left:79px;top:724px;width:27px;height:21px;background:#b0e4f7;border:1px dotted #000;box-sizing:border-box;"></div>
<div class="a" style="left:78px;top:745px;width:790px;height:1px;background:#d8d8d8;"></div>
<div class="t" style="top:729px;font-size:13px;line-height:13px;left:112.5px;color:#1a1a1a;white-space:nowrap;">11/2015/1</div>
<div class="t" style="top:729px;font-size:13px;line-height:13px;left:185.5px;color:#1a1a1a;white-space:nowrap;">11/2015/1</div>
<svg class="a" style="left:260px;top:727px;" width="13" height="15" viewBox="0 0 13 15"><path d="M3.65 7 V4.65 A2.85 2.85 0 0 1 9.35 4.65 V7" stroke="#40c27c" stroke-width="1.3" fill="none"/><rect x="1" y="6.5" width="11" height="7.5" fill="#40c27c"/></svg>
<div class="t" style="top:730px;font-size:12.6px;line-height:12.6px;left:286px;color:#1a1a1a;white-space:nowrap;">AB Group</div>
<div class="t" style="top:730px;font-size:12.6px;line-height:12.6px;left:425px;color:#1a1a1a;white-space:nowrap;">The order w...</div>
<div class="t" style="top:730px;font-size:12.8px;line-height:12.8px;right:507px;text-align:right;color:#1a1a1a;white-space:nowrap;">11 321,10</div>
<div class="t" style="top:730px;font-size:12.8px;line-height:12.8px;right:391px;text-align:right;color:#1a1a1a;white-space:nowrap;">13 585,40</div>
<div class="a" style="left:785px;top:726px;width:17px;height:17px;background:#f25656;border:1px solid rgba(90,90,90,0.65);box-sizing:border-box;"></div>
<div class="a" style="left:106px;top:196px;width:1px;height:550px;background:#d8d8d8;"></div>
<div class="a" style="left:179px;top:196px;width:1px;height:550px;background:#d8d8d8;"></div>
<div class="a" style="left:252px;top:196px;width:1px;height:550px;background:#d8d8d8;"></div>
<div class="a" style="left:280px;top:196px;width:1px;height:550px;background:#d8d8d8;"></div>
<div class="a" style="left:419px;top:196px;width:1px;height:550px;background:#d8d8d8;"></div>
<div class="a" style="left:515px;top:196px;width:1px;height:550px;background:#d8d8d8;"></div>
<div class="a" style="left:631px;top:196px;width:1px;height:550px;background:#d8d8d8;"></div>
<div class="a" style="left:747px;top:196px;width:1px;height:550px;background:#d8d8d8;"></div>
<div class="a" style="left:839px;top:196px;width:1px;height:550px;background:#d8d8d8;"></div>
<div class="a" style="left:867px;top:196px;width:1px;height:550px;background:#d8d8d8;"></div>
<div class="a" style="left:78px;top:196px;width:1px;height:562px;background:#d0d0d0;"></div>
<div class="a" style="left:868px;top:196px;width:20px;height:562px;background:#f0f0f0;border-left:1px solid #e4e4e4;box-sizing:border-box;"></div>
<div class="a" style="left:868px;top:746px;width:3px;height:12px;background:#fcfcfc;"></div>
<svg class="a" style="left:873px;top:200px;" width="10" height="9" viewBox="0 0 10 9"><path d="M1.5 7.5 L5 3 L8.5 7.5" stroke="#555" stroke-width="2" fill="none"/></svg>
<div class="a" style="left:871px;top:469px;width:15px;height:17px;background:#cdcdcd;"></div>
<svg class="a" style="left:873px;top:745px;" width="10" height="9" viewBox="0 0 10 9"><path d="M1.5 2.5 L5 6.5 L8.5 2.5" stroke="#555" stroke-width="2" fill="none"/></svg>
<div class="a" style="left:887px;top:196px;width:1px;height:562px;background:#dadada;"></div>
<div class="a" style="left:78px;top:758px;width:810px;height:27px;background:#f0f0f0;border:1px solid #d6d6d6;box-sizing:border-box;"></div>
<div class="a" style="left:71px;top:791px;width:824px;height:1px;background:#d4d4d4;"></div>
<div class="a" style="left:79px;top:760px;width:23px;height:23px;background:#d0d0d0;border:2px solid #7a7a7a;box-sizing:border-box;"></div>
<svg class="a" style="left:82px;top:764px;" width="17" height="16" viewBox="0 0 17 16"><path d="M1 1 H6 Q8 1 8 3 V14 Q7 12.5 5 12.5 H1 Z M15 1 H10 Q8 1 8 3 V14 Q9 12.5 11 12.5 H15 Z" stroke="#1d5db3" stroke-width="1.3" fill="none"/><path d="M8 13 V15" stroke="#1d5db3" stroke-width="1.2"/></svg>
<svg class="a" style="left:107px;top:764px;" width="15" height="15" viewBox="0 0 15 15"><path d="M1.2 4 L3 1 H12 L13.8 4 V13.8 H1.2 Z M1.2 4 H13.8" stroke="#1d5db3" stroke-width="1.3" fill="none"/><path d="M5.5 7 H9.5" stroke="#1d5db3" stroke-width="1.4"/></svg>
<svg class="a" style="left:131px;top:764px;" width="18" height="18" viewBox="0 0 18 18"><path d="M1.2 1.5 H14 L9 8 V15.5 L6.3 13 V8 Z" stroke="#1d5db3" stroke-width="1.3" fill="none" stroke-linejoin="round"/><path d="M12 14.5 H17 L14.5 17.5 Z" fill="#1d5db3"/></svg>
<div class="a" style="left:151px;top:761px;width:1px;height:21px;background:#d0d0d0;"></div>
<svg class="a" style="left:156px;top:763px;" width="17" height="17" viewBox="0 0 17 17"><path d="M8.5 1 V16 M2 4.8 L15 12.2 M2 12.2 L15 4.8" stroke="#1d5db3" stroke-width="1.3"/><path d="M6 1.5 L8.5 4 L11 1.5 M6 15.5 L8.5 13 L11 15.5 M1 7.5 L4.5 7 L3 4 M16 7.5 L12.5 7 L14 4 M1 9.5 L4.5 10 L3 13 M16 9.5 L12.5 10 L14 13" stroke="#1d5db3" stroke-width="1.2" fill="none"/></svg>
<div class="t" style="top:766px;font-size:12.5px;line-height:12.5px;left:180.5px;color:#1d5db3;">0</div>
<div class="a" style="left:194px;top:761px;width:1px;height:21px;background:#d0d0d0;"></div>
<div class="t" style="top:766px;font-size:12px;line-height:12px;left:201.5px;color:#1d5db3;letter-spacing:-0.016px;">Number of records</div>
<div class="a" style="left:308px;top:761px;width:1px;height:21px;background:#d0d0d0;"></div>
<div class="a" style="left:835px;top:761px;width:1px;height:21px;background:#d0d0d0;"></div>
<svg class="a" style="left:841px;top:764px;" width="15" height="15" viewBox="0 0 15 15"><path d="M13.8 2 V1 H1.5 L7.5 7.5 L1.5 14 H13.8 V13" stroke="#1d5db3" stroke-width="1.3" fill="none" stroke-linejoin="round"/></svg>
<div class="a" style="left:861px;top:761px;width:1px;height:21px;background:#d0d0d0;"></div>
<svg class="a" style="left:866px;top:763px;" width="17" height="17" viewBox="0 0 17 17"><path d="M1.5 15 L2.5 11 L11.5 2 Q12.5 1 13.5 2 L14.5 3 Q15.5 4 14.5 5 L5.5 14 Z M2.5 11 L5.5 14" stroke="#1d5db3" stroke-width="1.2" fill="none" stroke-linejoin="round"/><path d="M9 15 H16" stroke="#1d5db3" stroke-width="1.4"/></svg>
<div class="a" style="left:895px;top:34px;width:3px;height:758px;background:#f0f0f0;"></div>
<div class="a" style="left:894px;top:164px;width:1px;height:628px;background:#dadada;"></div>
<div class="a" style="left:898px;top:34px;width:7px;height:758px;background:#00adee;"></div>
<div class="a" style="left:900px;top:403px;width:3px;height:3px;background:#7fd3f4;border-radius:50%;"></div>
<div class="a" style="left:900px;top:412px;width:3px;height:3px;background:#7fd3f4;border-radius:50%;"></div>
<div class="a" style="left:900px;top:421px;width:3px;height:3px;background:#7fd3f4;border-radius:50%;"></div>
<!--PANEL-->
<div class="a" style="left:908px;top:34px;width:221px;height:758px;background:#0052a3;"></div>
<div class="t" style="top:47px;font-size:20px;line-height:20px;left:915px;color:#fff;letter-spacing:0.058px;">Invoice 11/2015/1</div>
<svg class="a" style="left:1106px;top:47px;" width="15" height="15" viewBox="0 0 15 15"><path d="M5.6 5.7 H1.6 V13.4 H9.3 V10" stroke="#fff" stroke-width="1.3" fill="none"/><path d="M5 2.1 H13.3 V10.2" stroke="#fff" stroke-width="1.3" fill="none"/><path d="M5.6 9.4 L9.8 5.2" stroke="#fff" stroke-width="1.3"/><path d="M7.4 4.1 H11 V7.7 Z" fill="#fff"/></svg>
<div class="a" style="left:911px;top:76px;width:215px;height:25px;background:#00adee;"></div>
<div class="t" style="top:84px;font-size:12.6px;line-height:12.6px;left:915.5px;color:#fff;font-weight:bold;letter-spacing:-0.220px;">Basic data</div>
<div class="a" style="left:1101px;top:78px;width:1px;height:21px;background:#0a8cc6;"></div>
<svg class="a" style="left:1106px;top:84px;" width="15" height="9" viewBox="0 0 15 9"><path d="M1 8 L7.5 1.5 L14 8" stroke="#fff" stroke-width="1.4" fill="none"/></svg>
<div class="a" style="left:911px;top:101px;width:215px;height:277px;background:#fbfbfb;"></div>
<div class="t" style="top:110px;font-size:11.9px;line-height:11.9px;left:918px;color:#2550a8;white-space:nowrap;letter-spacing:-0.1px;">Purchase order:</div>
<div class="t" style="top:110px;font-size:11.9px;line-height:11.9px;right:14.5px;text-align:right;color:#1a1a1a;white-space:nowrap;letter-spacing:-0.068px;">11/2015/1</div>
<div class="a" style="left:918px;top:122px;width:200px;height:1px;background:#e4e4e4;"></div>
<div class="t" style="top:132px;font-size:11.9px;line-height:11.9px;left:918px;color:#2550a8;white-space:nowrap;letter-spacing:-0.1px;">Supplier:</div>
<div class="t" style="top:132px;font-size:11.9px;line-height:11.9px;right:14.5px;text-align:right;color:#1a1a1a;white-space:nowrap;letter-spacing:-0.233px;">AB Group; Lower St.; Lond...</div>
<div class="a" style="left:918px;top:144px;width:200px;height:1px;background:#e4e4e4;"></div>
<div class="t" style="top:154px;font-size:11.9px;line-height:11.9px;left:918px;color:#2550a8;white-space:nowrap;letter-spacing:-0.1px;">Description:</div>
<div class="t" style="top:154px;font-size:11.9px;line-height:11.9px;right:14.5px;text-align:right;color:#1a1a1a;white-space:nowrap;letter-spacing:-0.284px;">The order was created</div>
<div class="a" style="left:918px;top:166px;width:200px;height:1px;background:#e4e4e4;"></div>
<div class="t" style="top:176px;font-size:11.9px;line-height:11.9px;left:918px;color:#2550a8;white-space:nowrap;letter-spacing:-0.1px;">Net:</div>
<div class="t" style="top:176px;font-size:11.9px;line-height:11.9px;right:14.5px;text-align:right;color:#1a1a1a;white-space:nowrap;letter-spacing:-0.610px;">11 321,10 <span style="color:#2a5cac;">GBP</span></div>
<div class="a" style="left:918px;top:188px;width:200px;height:1px;background:#e4e4e4;"></div>
<div class="t" style="top:198px;font-size:11.9px;line-height:11.9px;left:918px;color:#2550a8;white-space:nowrap;letter-spacing:-0.1px;">VAT:</div>
<div class="t" style="top:198px;font-size:11.9px;line-height:11.9px;right:14.5px;text-align:right;color:#1a1a1a;white-space:nowrap;letter-spacing:-0.658px;">2 264,30 <span style="color:#2a5cac;">GBP</span></div>
<div class="a" style="left:918px;top:210px;width:200px;height:1px;background:#e4e4e4;"></div>
<div class="t" style="top:220px;font-size:11.9px;line-height:11.9px;left:918px;color:#2550a8;white-space:nowrap;letter-spacing:-0.1px;font-weight:bold;">Gross:</div>
<div class="t" style="top:220px;font-size:11.9px;line-height:11.9px;right:14.5px;text-align:right;color:#1a1a1a;white-space:nowrap;font-weight:bold;letter-spacing:-0.075px;">13 585,40 <span style="color:#2a5cac;">GBP</span></div>
<div class="a" style="left:918px;top:232px;width:200px;height:1px;background:#e4e4e4;"></div>
<div class="t" style="top:242px;font-size:11.9px;line-height:11.9px;left:918px;color:#2550a8;white-space:nowrap;letter-spacing:-0.1px;">Ac. trans. date:</div>
<div class="t" style="top:242px;font-size:11.9px;line-height:11.9px;right:14.5px;text-align:right;color:#1a1a1a;white-space:nowrap;letter-spacing:-0.601px;">13.05.2015</div>
<div class="a" style="left:918px;top:254px;width:200px;height:1px;background:#e4e4e4;"></div>
<div class="t" style="top:264px;font-size:11.9px;line-height:11.9px;left:918px;color:#2550a8;white-space:nowrap;letter-spacing:-0.1px;">Tax point date:</div>
<div class="t" style="top:264px;font-size:11.9px;line-height:11.9px;right:14.5px;text-align:right;color:#1a1a1a;white-space:nowrap;letter-spacing:-0.601px;">13.05.2015</div>
<div class="a" style="left:918px;top:276px;width:200px;height:1px;background:#e4e4e4;"></div>
<div class="t" style="top:286px;font-size:11.9px;line-height:11.9px;left:918px;color:#2550a8;white-space:nowrap;letter-spacing:-0.1px;">Due date:</div>
<div class="t" style="top:286px;font-size:11.9px;line-height:11.9px;right:14.5px;text-align:right;color:#1a1a1a;white-space:nowrap;letter-spacing:-0.601px;">27.05.2015</div>
<div class="a" style="left:918px;top:298px;width:200px;height:1px;background:#e4e4e4;"></div>
<div class="t" style="top:308px;font-size:11.9px;line-height:11.9px;left:918px;color:#2550a8;white-space:nowrap;letter-spacing:-0.1px;">Paid in full on:</div>
<div class="t" style="top:308px;font-size:11.9px;line-height:11.9px;right:14.5px;text-align:right;color:#1a1a1a;white-space:nowrap;letter-spacing:-0.601px;">00.00.0000</div>
<div class="a" style="left:918px;top:320px;width:200px;height:1px;background:#e4e4e4;"></div>
<div class="t" style="top:330px;font-size:11.9px;line-height:11.9px;left:918px;color:#2550a8;white-space:nowrap;letter-spacing:-0.1px;">Rem. amount:</div>
<div class="t" style="top:330px;font-size:11.9px;line-height:11.9px;right:14.5px;text-align:right;color:#1a1a1a;white-space:nowrap;letter-spacing:-0.583px;">13 585,40 <span style="color:#2a5cac;">CZK</span></div>
<div class="a" style="left:918px;top:342px;width:200px;height:1px;background:#e4e4e4;"></div>
<div class="a" style="left:1070px;top:349px;width:23px;height:23px;background:#f25656;border:1px solid rgba(90,90,90,0.6);box-sizing:border-box;"></div>
<svg class="a" style="left:1099px;top:351px;" width="17" height="19" viewBox="0 0 17 19"><path d="M4.5 8 V5.5 A4 4 0 0 1 12.5 5.5 V8" stroke="#40c27c" stroke-width="1.7" fill="none"/><rect x="1" y="8" width="14.5" height="10" fill="#40c27c"/></svg>
<div class="a" style="left:911px;top:385px;width:215px;height:25px;background:#00adee;"></div>
<div class="t" style="top:393px;font-size:12.6px;line-height:12.6px;left:915.5px;color:#fff;font-weight:bold;letter-spacing:0.102px;">Advances to purch. order</div>
<div class="a" style="left:1101px;top:387px;width:1px;height:21px;background:#0a8cc6;"></div>
<svg class="a" style="left:1106px;top:393px;" width="15" height="9" viewBox="0 0 15 9"><path d="M1 8 L7.5 1.5 L14 8" stroke="#fff" stroke-width="1.4" fill="none"/></svg>
<div class="a" style="left:911px;top:410px;width:215px;height:79px;background:#fbfbfb;"></div>
<div class="t" style="top:419px;font-size:11.9px;line-height:11.9px;left:918px;color:#2550a8;white-space:nowrap;letter-spacing:-0.113px;">Deducted</div>
<div class="t" style="top:419px;font-size:11.9px;line-height:11.9px;right:14.5px;text-align:right;color:#1a1a1a;white-space:nowrap;letter-spacing:-0.566px;">0,00 <span style="color:#2a5cac;">CZK</span></div>
<div class="a" style="left:918px;top:431px;width:200px;height:1px;background:#e4e4e4;"></div>
<div class="t" style="top:440px;font-size:12.2px;line-height:12.2px;left:918px;color:#2550a8;white-space:nowrap;font-weight:bold;letter-spacing:-0.331px;">Remains to deduct</div>
<div class="t" style="top:440px;font-size:12.2px;line-height:12.2px;right:14.5px;text-align:right;color:#1a1a1a;white-space:nowrap;font-weight:bold;letter-spacing:-0.419px;">0,00 <span style="color:#2a5cac;">CZK</span></div>
<div class="a" style="left:918px;top:453px;width:200px;height:1px;background:#e4e4e4;"></div>
<div class="a" style="left:911px;top:496px;width:215px;height:25px;background:#00adee;"></div>
<div class="t" style="top:504px;font-size:12.6px;line-height:12.6px;left:915.5px;color:#fff;font-weight:bold;letter-spacing:0.051px;">Advances to supplier</div>
<div class="a" style="left:1101px;top:498px;width:1px;height:21px;background:#0a8cc6;"></div>
<svg class="a" style="left:1106px;top:504px;" width="15" height="9" viewBox="0 0 15 9"><path d="M1 8 L7.5 1.5 L14 8" stroke="#fff" stroke-width="1.4" fill="none"/></svg>
<div class="a" style="left:911px;top:521px;width:215px;height:79px;background:#fbfbfb;"></div>
<div class="t" style="top:530px;font-size:11.9px;line-height:11.9px;left:918px;color:#2550a8;white-space:nowrap;letter-spacing:-0.113px;">Deducted</div>
<div class="t" style="top:530px;font-size:11.9px;line-height:11.9px;right:14.5px;text-align:right;color:#1a1a1a;white-space:nowrap;letter-spacing:-0.566px;">0,00 <span style="color:#2a5cac;">CZK</span></div>
<div class="a" style="left:918px;top:542px;width:200px;height:1px;background:#e4e4e4;"></div>
<div class="t" style="top:551px;font-size:12.2px;line-height:12.2px;left:918px;color:#2550a8;white-space:nowrap;font-weight:bold;letter-spacing:-0.331px;">Remains to deduct</div>
<div class="t" style="top:551px;font-size:12.2px;line-height:12.2px;right:14.5px;text-align:right;color:#1a1a1a;white-space:nowrap;font-weight:bold;letter-spacing:-0.419px;">0,00 <span style="color:#2a5cac;">CZK</span></div>
<div class="a" style="left:918px;top:564px;width:200px;height:1px;background:#e4e4e4;"></div>
<svg class="a" style="left:946px;top:572px;" width="21" height="22" viewBox="0 0 21 22"><rect x="1.8" y="1" width="15.3" height="17.3" stroke="#111" stroke-width="1.3" fill="#fff"/><path d="M4.3 5.6 H11.6 M13.4 5.6 H15 M4.3 8.5 H11.6 M13.4 8.5 H15 M4.3 11.4 H6" stroke="#111" stroke-width="1.1"/><circle cx="14.3" cy="15.1" r="5.3" fill="#f05252"/><path d="M14.3 12 V15.9 M14.3 17.2 V18.5" stroke="#fff" stroke-width="1.4"/></svg>
<div class="a" style="left:911px;top:607px;width:215px;height:25px;background:#00adee;"></div>
<div class="t" style="top:615px;font-size:12.6px;line-height:12.6px;left:915.5px;color:#fff;font-weight:bold;letter-spacing:0.194px;">Other details</div>
<div class="a" style="left:1101px;top:609px;width:1px;height:21px;background:#0a8cc6;"></div>
<svg class="a" style="left:1106px;top:615px;" width="15" height="9" viewBox="0 0 15 9"><path d="M1 8 L7.5 1.5 L14 8" stroke="#fff" stroke-width="1.4" fill="none"/></svg>
<div class="a" style="left:911px;top:632px;width:215px;height:50px;background:#fbfbfb;"></div>
<div class="t" style="top:641px;font-size:11.9px;line-height:11.9px;left:918px;color:#2550a8;white-space:nowrap;letter-spacing:-0.224px;">Created by:</div>
<div class="t" style="top:641px;font-size:11.9px;line-height:11.9px;right:14.5px;text-align:right;color:#1a1a1a;white-space:nowrap;letter-spacing:-0.598px;">K2 <span style="color:#2550a8">13.05.2015 00:00:00</span></div>
<div class="a" style="left:918px;top:653px;width:200px;height:1px;background:#e4e4e4;"></div>
<div class="t" style="top:663px;font-size:11.9px;line-height:11.9px;left:918px;color:#2550a8;white-space:nowrap;letter-spacing:-0.130px;">Changed by:</div>
<div class="t" style="top:663px;font-size:11.9px;line-height:11.9px;right:14.5px;text-align:right;color:#1a1a1a;white-space:nowrap;letter-spacing:-0.598px;">K2 <span style="color:#2550a8">13.05.2015 09:41:18</span></div>
<div class="a" style="left:918px;top:675px;width:200px;height:1px;background:#e4e4e4;"></div>
<div class="a" style="left:911px;top:713px;width:215px;height:25px;background:#00adee;"></div>
<div class="t" style="top:721px;font-size:12.6px;line-height:12.6px;left:915.5px;color:#fff;font-weight:bold;letter-spacing:-0.060px;">Settings</div>
<div class="a" style="left:1101px;top:715px;width:1px;height:21px;background:#0a8cc6;"></div>
<svg class="a" style="left:1106px;top:721px;" width="15" height="9" viewBox="0 0 15 9"><path d="M1 8 L7.5 1.5 L14 8" stroke="#fff" stroke-width="1.4" fill="none"/></svg>
<div class="a" style="left:911px;top:736px;width:215px;height:53px;background:#fbfbfb;"></div>
<div class="t" style="top:747px;font-size:11.9px;line-height:11.9px;left:925px;color:#2550a8;white-space:nowrap;letter-spacing:-0.403px;">Bus. year</div>
<div class="t" style="top:747px;font-size:11.9px;line-height:11.9px;left:1029px;color:#2550a8;white-space:nowrap;letter-spacing:-0.174px;">Warehouse</div>
<div class="a" style="left:918px;top:759px;width:98px;height:23px;background:#fdfde2;border:1px solid #19a6e6;box-sizing:border-box;"></div>
<div class="t" style="top:766px;font-size:12.6px;line-height:12.6px;left:921px;color:#1a1a1a;white-space:nowrap;letter-spacing:-0.204px;">2022</div>
<div class="a" style="left:1022px;top:759px;width:97px;height:23px;background:#fdfde2;border:1px solid #19a6e6;box-sizing:border-box;"></div>
<svg class="a" style="left:998px;top:765px;" width="13" height="11" viewBox="0 0 13 11"><rect x="0.8" y="1" width="3" height="3" fill="#1d5db3"/><rect x="5" y="1" width="3" height="3" fill="#1d5db3"/><rect x="9.2" y="1" width="3" height="3" fill="#1d5db3"/><path d="M2.3 2.5 h0.01 M6.5 2.5 h0.01 M10.7 2.5 h0.01" stroke="#cfe0f0" stroke-width="1"/><path d="M1 5 L6.5 10 L12 5" stroke="#1d5db3" stroke-width="1.3" fill="none"/></svg>
<svg class="a" style="left:1102px;top:765px;" width="13" height="11" viewBox="0 0 13 11"><rect x="0.8" y="1" width="3" height="3" fill="#1d5db3"/><rect x="5" y="1" width="3" height="3" fill="#1d5db3"/><rect x="9.2" y="1" width="3" height="3" fill="#1d5db3"/><path d="M2.3 2.5 h0.01 M6.5 2.5 h0.01 M10.7 2.5 h0.01" stroke="#cfe0f0" stroke-width="1"/><path d="M1 5 L6.5 10 L12 5" stroke="#1d5db3" stroke-width="1.3" fill="none"/></svg>
<div class="a" style="left:908px;top:733px;width:220px;height:59px;border:3px solid #ee1c24;box-sizing:border-box;"></div>
</body></html>
